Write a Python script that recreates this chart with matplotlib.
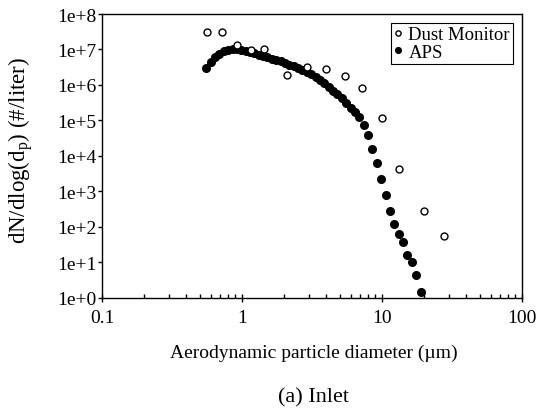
import numpy as np
import matplotlib
matplotlib.use("Agg")
import matplotlib.pyplot as plt
from matplotlib.ticker import FuncFormatter, LogLocator, FixedLocator

plt.rcParams['font.family'] = ['Liberation Serif', 'DejaVu Serif']
plt.rcParams['mathtext.fontset'] = 'custom'
plt.rcParams['mathtext.rm'] = 'Liberation Serif'
plt.rcParams['mathtext.it'] = 'Liberation Serif'

# Dust Monitor (open circles)
dust_x = [0.564, 0.725, 0.92, 1.17, 1.45, 2.09, 2.9, 4.0, 5.5, 7.2, 10.1, 13.2, 20.0, 28.0]
dust_y = [3.2e7, 3.2e7, 1.35e7, 9.8e6, 1.02e7, 1.87e6, 3.3e6, 2.8e6, 1.8e6, 8.1e5,
          1.2e5, 4.2e3, 2.8e2, 56]

# APS (filled circles)
aps_x = [0.557, 0.598, 0.643, 0.691, 0.742, 0.797, 0.858, 0.922, 0.990, 1.064,
         1.143, 1.228, 1.320, 1.419, 1.524, 1.638, 1.760, 1.891, 2.033, 2.185,
         2.347, 2.523, 2.711, 2.914, 3.131, 3.364, 3.615, 3.885, 4.174, 4.486,
         4.820, 5.180, 5.566, 5.982, 6.428, 6.907, 7.422, 7.976, 8.571, 9.210,
         9.897, 10.64, 11.43, 12.28, 13.20, 14.18, 15.24, 16.38, 17.60, 18.91]
aps_y = [3.09e6, 4.47e6, 6.03e6, 7.59e6, 8.91e6, 9.77e6, 1.00e7, 1.00e7, 9.55e6, 8.91e6,
         8.32e6, 7.76e6, 7.08e6, 6.61e6, 6.03e6, 5.50e6, 5.01e6, 4.57e6, 4.07e6, 3.72e6,
         3.31e6, 2.95e6, 2.63e6, 2.29e6, 2.00e6, 1.70e6, 1.35e6, 1.12e6, 8.91e5, 6.92e5,
         5.50e5, 4.17e5, 3.16e5, 2.29e5, 1.70e5, 1.24e5, 7.36e4, 3.76e4, 1.58e4, 6.07e3,
         2.14e3, 789, 283, 121, 62, 37.6, 16.1, 10.2, 4.38, 1.42]

x_ticks = [0.1, 1, 10, 100]
x_ticklabels = ['0.1', '1', '10', '100']

W, H = 537, 410
fig = plt.figure(figsize=(W / 100, H / 100), dpi=100)
L, R, T, B = 102, 521.7, 15, 298.5
ax = fig.add_axes([L / W, 1 - B / H, (R - L) / W, (B - T) / H])

ax.plot(dust_x, dust_y, linestyle='none', marker='o', markersize=5,
        markerfacecolor='white', markeredgecolor='black', markeredgewidth=1.0,
        label='Dust Monitor', zorder=3)
ax.plot(aps_x, aps_y, linestyle='none', marker='o', markersize=5.5,
        markerfacecolor='black', markeredgecolor='black',
        label='APS', zorder=2)

ax.set_xscale('log')
ax.set_yscale('log')
ax.set_xlim(0.1, 100)
ax.set_ylim(1, 1e8)

ax.xaxis.set_major_locator(FixedLocator(x_ticks))
ax.set_xticklabels(x_ticklabels)
ax.xaxis.set_minor_locator(LogLocator(base=10, subs=np.arange(2, 10)))
ax.xaxis.set_minor_formatter(FuncFormatter(lambda v, p: ''))

ax.yaxis.set_major_locator(FixedLocator([10.0 ** k for k in range(0, 9)]))
ax.yaxis.set_major_formatter(FuncFormatter(lambda v, p: '1e+%d' % int(round(np.log10(v)))))
ax.yaxis.set_minor_locator(FixedLocator([]))

ax.tick_params(axis='x', which='major', direction='inout', length=6, width=1,
               labelsize=14, pad=5.5, top=False)
ax.tick_params(axis='x', which='minor', direction='in', length=3, width=1, top=False)
ax.tick_params(axis='y', which='major', direction='out', length=3, width=1,
               labelsize=14, pad=1, right=False)

for s in ax.spines.values():
    s.set_linewidth(1.0)
    s.set_color('black')

fig.text(314 / W, 1 - 353 / H, 'Aerodynamic particle diameter (\u00b5m)',
         ha='center', va='center', fontsize=14)
fig.text(21 / W, 1 - 150 / H, r'$\mathregular{dN/dlog(d_p)\ (\#/liter)}$',
         ha='center', va='center', rotation=90, fontsize=16.5)

leg = ax.legend(loc='upper right', bbox_to_anchor=((512.7 - L) / (R - L), 1 - (24.3 - T) / (B - T)),
                frameon=True, fancybox=False, edgecolor='black', framealpha=1, fontsize=13.5,
                handlelength=0.5, handletextpad=0.3, borderpad=0.15,
                labelspacing=0.02, borderaxespad=0.0, markerscale=0.75)
leg.get_frame().set_linewidth(0.8)

fig.text(313 / W, 1 - 398 / H, '(a) Inlet', ha='center', va='center', fontsize=16)

fig.savefig('out.png', dpi=100)
